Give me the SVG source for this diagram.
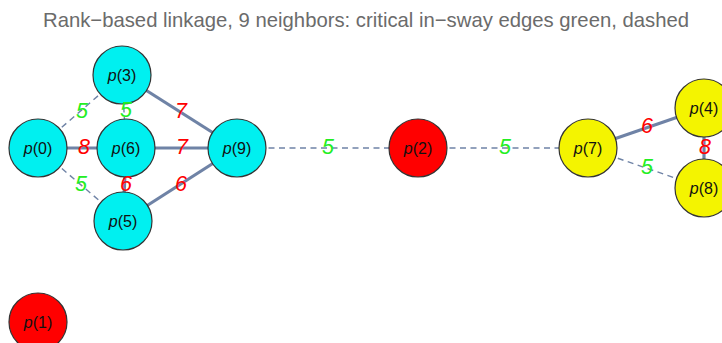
<svg xmlns="http://www.w3.org/2000/svg" width="722" height="343" viewBox="0 0 722 343">
<style>
.title{font-family:"Liberation Sans",Arial,sans-serif;font-size:20.3px;fill:#6b6b6b;text-anchor:middle}
.solid{stroke:#6f83a6;stroke-width:3.2;fill:none}
.dash{stroke:#6f83a6;stroke-width:1.4;stroke-dasharray:6,4.5;fill:none}
.el{font-family:"Liberation Sans",Arial,sans-serif;font-size:21.5px;font-style:italic;text-anchor:middle;dominant-baseline:central}
.red{fill:#ff0000}
.green{fill:#22ee22}
.node circle{stroke:#333;stroke-width:1.2}
.cyan circle{fill:#00f0f0}
.yel circle{fill:#f4f400}
.rd circle{fill:#ff0000}
.node text{font-family:"Liberation Sans",Arial,sans-serif;font-size:16px;fill:#111;text-anchor:middle;dominant-baseline:central}
</style>
<rect width="722" height="343" fill="#fff"/>
<text class="title" x="366" y="27">Rank−based linkage, 9 neighbors: critical in−sway edges green, dashed</text>
<g id="edges">
<line class="dash" x1="38" y1="148" x2="122" y2="75"/>
<line class="solid" x1="38" y1="148" x2="126" y2="148"/>
<line class="dash" x1="38" y1="148" x2="123" y2="221"/>
<line class="dash" x1="122" y1="75" x2="126" y2="148"/>
<line class="solid" x1="126" y1="148" x2="123" y2="221"/>
<line class="solid" x1="122" y1="75" x2="237" y2="148"/>
<line class="solid" x1="126" y1="148" x2="237" y2="148"/>
<line class="solid" x1="123" y1="221" x2="237" y2="148"/>
<line class="dash" x1="237" y1="148" x2="418" y2="148"/>
<line class="dash" x1="418" y1="148" x2="588" y2="148"/>
<line class="solid" x1="588" y1="148" x2="704" y2="108"/>
<line class="dash" x1="588" y1="148" x2="704" y2="188"/>
<line class="solid" x1="704" y1="108" x2="704" y2="188"/>
</g>
<g id="nodes">
<g id="n0" class="node cyan"><circle cx="38" cy="148" r="29"/><text x="38" y="148"><tspan font-style="italic">p</tspan>(0)</text></g>
<g id="n3" class="node cyan"><circle cx="122" cy="75" r="29"/><text x="122" y="75"><tspan font-style="italic">p</tspan>(3)</text></g>
<g id="n6" class="node cyan"><circle cx="126" cy="148" r="29"/><text x="126" y="148"><tspan font-style="italic">p</tspan>(6)</text></g>
<g id="n5" class="node cyan"><circle cx="123" cy="221" r="29"/><text x="123" y="221"><tspan font-style="italic">p</tspan>(5)</text></g>
<g id="n9" class="node cyan"><circle cx="237" cy="148" r="29"/><text x="237" y="148"><tspan font-style="italic">p</tspan>(9)</text></g>
<g id="n2" class="node rd"><circle cx="418" cy="148" r="29"/><text x="418" y="148"><tspan font-style="italic">p</tspan>(2)</text></g>
<g id="n7" class="node yel"><circle cx="588" cy="148" r="29"/><text x="588" y="148"><tspan font-style="italic">p</tspan>(7)</text></g>
<g id="n4" class="node yel"><circle cx="704" cy="108" r="29"/><text x="704" y="108"><tspan font-style="italic">p</tspan>(4)</text></g>
<g id="n8" class="node yel"><circle cx="704" cy="188" r="29"/><text x="704" y="188"><tspan font-style="italic">p</tspan>(8)</text></g>
<g id="n1" class="node rd"><circle cx="38" cy="322" r="29"/><text x="38" y="322"><tspan font-style="italic">p</tspan>(1)</text></g>
</g>
<g id="edge-labels">
<text class="el green" x="82" y="111">5</text>
<text class="el red" x="84" y="147">8</text>
<text class="el green" x="81" y="184">5</text>
<text class="el green" x="126" y="110">5</text>
<text class="el red" x="126" y="184">6</text>
<text class="el red" x="181" y="111">7</text>
<text class="el red" x="182" y="147">7</text>
<text class="el red" x="181" y="184">6</text>
<text class="el green" x="328" y="147">5</text>
<text class="el green" x="505" y="147">5</text>
<text class="el red" x="647" y="126">6</text>
<text class="el green" x="647" y="167">5</text>
<text class="el red" x="705" y="147">8</text>
</g>
</svg>
